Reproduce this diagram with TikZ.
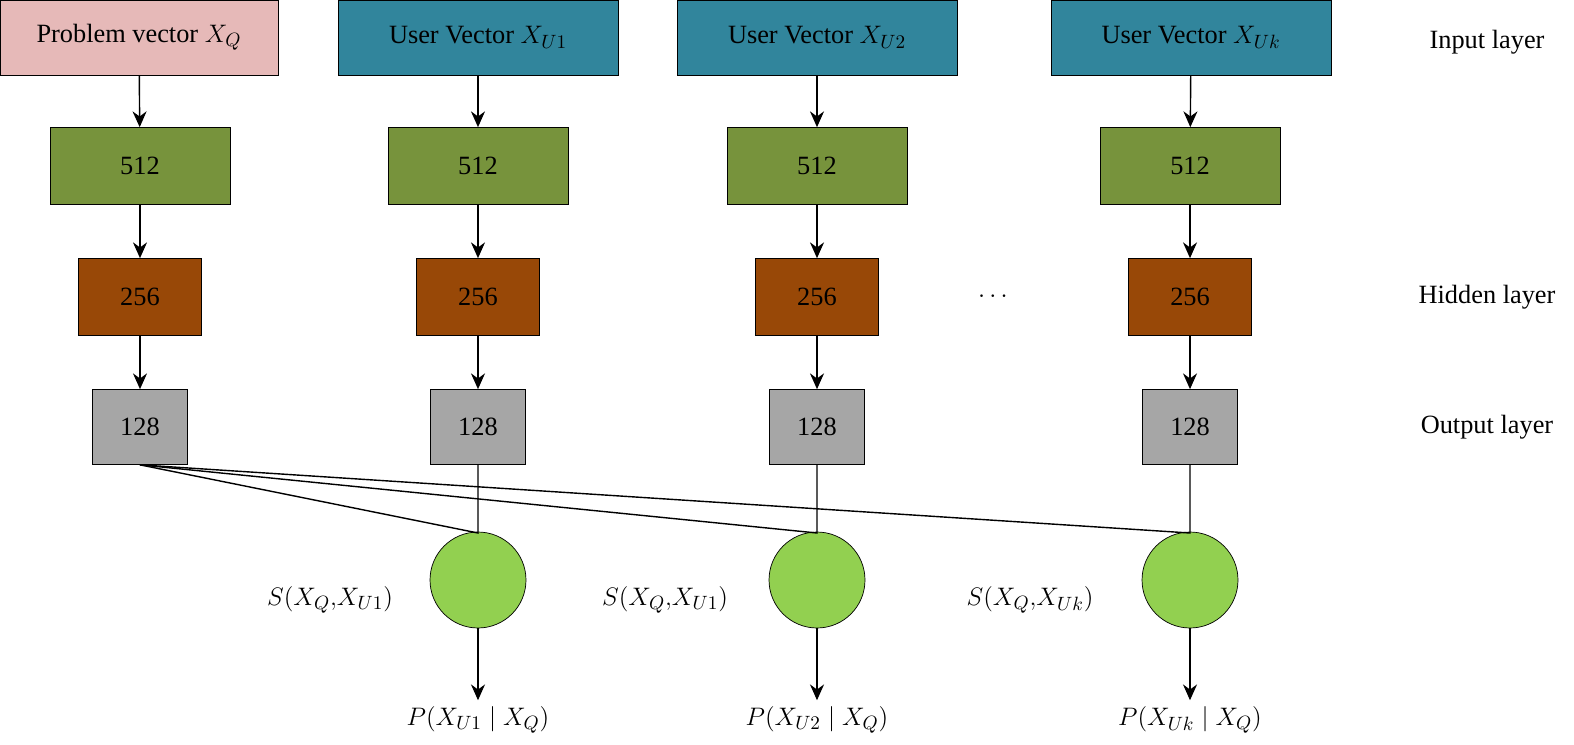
\documentclass[tikz,border=0pt]{standalone}
\usepackage{fontspec}
\setmainfont{Liberation Serif}
\usepackage{amsmath}
\usetikzlibrary{arrows.meta}
\definecolor{pinkbox}{HTML}{E6B9B8}
\definecolor{tealbox}{HTML}{31859C}
\definecolor{greenbox}{HTML}{77933C}
\definecolor{brownbox}{HTML}{984807}
\definecolor{graybox}{HTML}{A6A6A6}
\definecolor{circfill}{HTML}{92D050}
\tikzset{
	box/.style={draw, thin, inner sep=0pt, font=\fontsize{15}{18}\selectfont},
	lbl/.style={font=\fontsize{15}{18}\selectfont},
	arr/.style={thick, -{Stealth[length=9pt, width=8pt]}}
}
\begin{document}
\begin{tikzpicture}[x=0.02cm, y=-0.02cm]
	\useasboundingbox (0, 0) rectangle (1574, 744);
	% input layer
	\node[box, fill=pinkbox, minimum width=5.56cm, minimum height=1.5cm] (inq) at (139, 37.5) {Problem vector $X_Q$};
	\node[box, fill=tealbox, minimum width=5.6cm, minimum height=1.5cm] (in1) at (478, 37.5) {User Vector $X_{U1}$};
	\node[box, fill=tealbox, minimum width=5.6cm, minimum height=1.5cm] (in2) at (817, 37.5) {User Vector $X_{U2}$};
	\node[box, fill=tealbox, minimum width=5.6cm, minimum height=1.5cm] (ink) at (1191, 37.5) {User Vector $X_{Uk}$};
	% stacks
	\foreach \n/\x in {q/140, 1/478, 2/817, k/1190} {
		\node[box, fill=greenbox, minimum width=3.6cm, minimum height=1.54cm] (a\n) at (\x, 166) {512};
		\node[box, fill=brownbox, minimum width=2.46cm, minimum height=1.54cm] (b\n) at (\x, 297) {256};
		\node[box, fill=graybox, minimum width=1.9cm, minimum height=1.5cm] (c\n) at (\x, 427) {128};
		\draw[arr] (in\n) -- (a\n);
		\draw[arr] (a\n) -- (b\n);
		\draw[arr] (b\n) -- (c\n);
	}
	% similarity nodes
	\foreach \n/\x/\i in {1/478/1, 2/817/2, k/1190/k} {
		\node[circle, draw, thin, fill=circfill, minimum size=1.92cm] (s\n) at (\x, 580) {};
		\coordinate (j\n) at (\x, 533);
		\draw[thick] (cq.south) -- (j\n) -- (c\n.south);
		\node[lbl] (p\n) at (\x, 720) {$P(X_{U\i}\mid X_Q)$};
		\draw[arr] (s\n) -- (p\n.north);
	}
	\node[lbl] (t1) at (330, 600) {$S(X_Q{,}X_{U1})$};
	\node[lbl] (t2) at (665, 600) {$S(X_Q{,}X_{U1})$};
	\node[lbl] (tk) at (1030, 600) {$S(X_Q{,}X_{Uk})$};
	\node[lbl] (dots) at (995, 297) {\textbf{$\cdots$}};
	% layer names
	\node[lbl] (linput) at (1487, 42) {Input layer};
	\node[lbl] (lhidden) at (1487, 297) {Hidden layer};
	\node[lbl] (loutput) at (1487, 427) {Output layer};
\end{tikzpicture}
\end{document}
